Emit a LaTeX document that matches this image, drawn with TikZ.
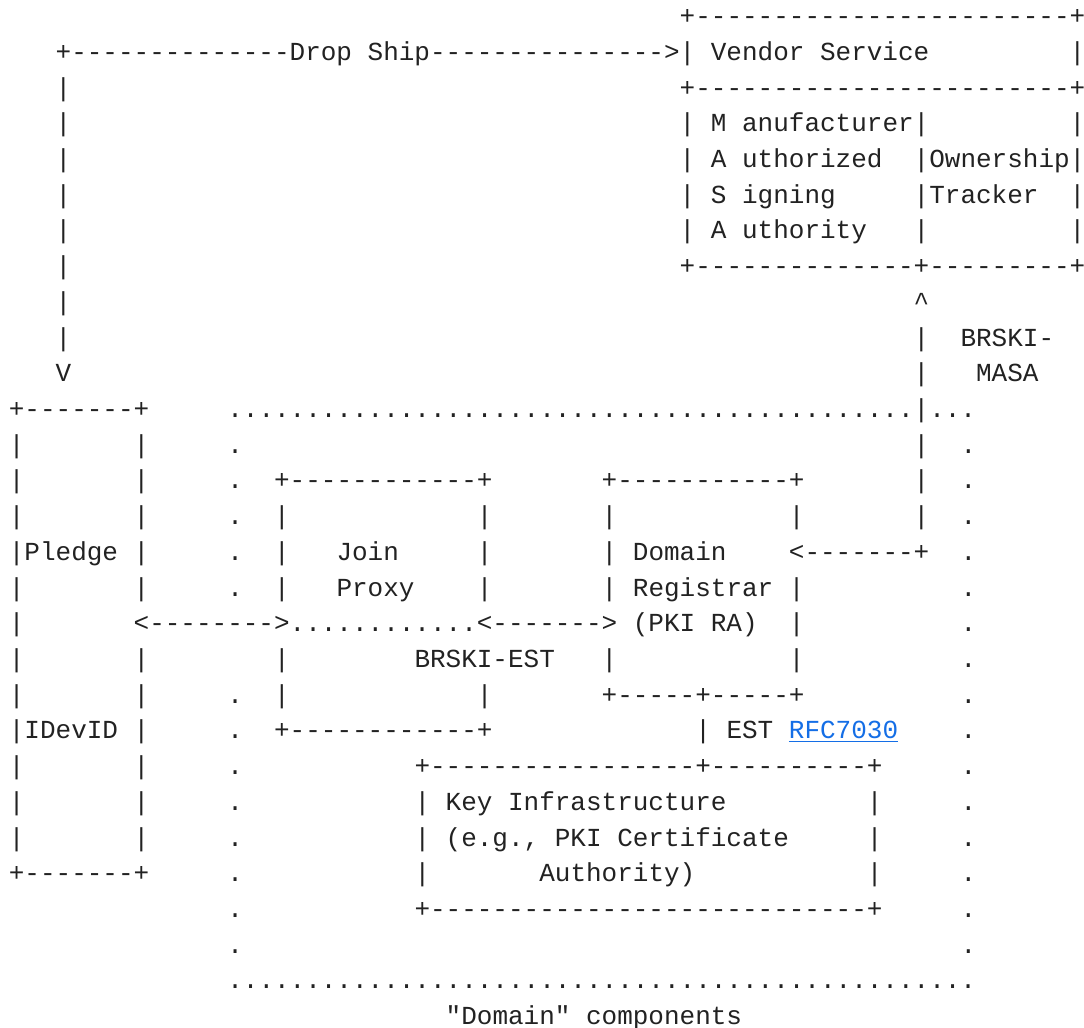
\documentclass[tikz,border=0pt]{standalone}
\usepackage{fontspec}
\setmonofont{Liberation Mono}
\definecolor{ink}{RGB}{34,34,34}
\definecolor{linkblue}{RGB}{20,110,230}
\tikzset{
  txt/.style={inner sep=0pt, outer sep=0pt, anchor=base west,
    font=\ttfamily\fontsize{13pt}{15pt}\selectfont, text=ink},
  linktxt/.style={txt, text=linkblue},
}
% \R{row}{column}{text}: one run of characters on the character grid
\newcommand\R[3]{\node[txt] (r#1c#2) at ({4.45pt+7.8pt*#2},{-208.75pt-17.855pt*(#1-12)}) {#3};}
\begin{document}
\begin{tikzpicture}
\fill[white] (0,0) rectangle (542pt,-514pt);
\useasboundingbox (0,0) rectangle (542pt,-514pt);
% row 1-3
\R{1}{43}{+------------------------+}
\R{2}{3}{+--------------Drop Ship--------------->| Vendor Service}
\R{2}{68}{|}
\R{3}{3}{|}
\R{3}{43}{+------------------------+}
% rows 4-8
\R{4}{3}{|}
\R{4}{43}{| M anufacturer|}
\R{4}{68}{|}
\R{5}{3}{|}
\R{5}{43}{| A uthorized}
\R{5}{58}{|Ownership|}
\R{6}{3}{|}
\R{6}{43}{| S igning}
\R{6}{58}{|Tracker}
\R{6}{68}{|}
\R{7}{3}{|}
\R{7}{43}{| A uthority}
\R{7}{58}{|}
\R{7}{68}{|}
\R{8}{3}{|}
\R{8}{43}{+--------------+---------+}
% rows 9-11
\R{9}{3}{|}
\R{9}{58}{\textasciicircum}
\R{10}{3}{|}
\R{10}{58}{|}
\R{10}{61}{BRSKI-}
\R{11}{3}{V}
\R{11}{58}{|}
\R{11}{62}{MASA}
% row 12
\R{12}{0}{+-------+}
\R{12}{14}{............................................|...}
% row 13
\R{13}{0}{|}
\R{13}{8}{|}
\R{13}{14}{.}
\R{13}{58}{|}
\R{13}{61}{.}
% row 14
\R{14}{0}{|}
\R{14}{8}{|}
\R{14}{14}{.}
\R{14}{17}{+------------+}
\R{14}{38}{+-----------+}
\R{14}{58}{|}
\R{14}{61}{.}
% row 15
\R{15}{0}{|}
\R{15}{8}{|}
\R{15}{14}{.}
\R{15}{17}{|}
\R{15}{30}{|}
\R{15}{38}{|}
\R{15}{50}{|}
\R{15}{58}{|}
\R{15}{61}{.}
% row 16
\R{16}{0}{|Pledge |}
\R{16}{14}{.}
\R{16}{17}{|}
\R{16}{21}{Join}
\R{16}{30}{|}
\R{16}{38}{| Domain}
\R{16}{50}{<-------+}
\R{16}{61}{.}
% row 17
\R{17}{0}{|}
\R{17}{8}{|}
\R{17}{14}{.}
\R{17}{17}{|}
\R{17}{21}{Proxy}
\R{17}{30}{|}
\R{17}{38}{| Registrar |}
\R{17}{61}{.}
% row 18
\R{18}{0}{|}
\R{18}{8}{<-------->............<-------> (PKI RA)}
\R{18}{50}{|}
\R{18}{61}{.}
% row 19
\R{19}{0}{|}
\R{19}{8}{|}
\R{19}{17}{|}
\R{19}{26}{BRSKI-EST}
\R{19}{38}{|}
\R{19}{50}{|}
\R{19}{61}{.}
% row 20
\R{20}{0}{|}
\R{20}{8}{|}
\R{20}{14}{.}
\R{20}{17}{|}
\R{20}{30}{|}
\R{20}{38}{+-----+-----+}
\R{20}{61}{.}
% row 21
\R{21}{0}{|IDevID |}
\R{21}{14}{.}
\R{21}{17}{+------------+}
\R{21}{44}{| EST}
\node[linktxt] (rfc) at ({4.45pt+7.8pt*50},{-208.75pt-17.855pt*9}) {RFC7030};
\draw[linkblue, line width=0.55pt] ([yshift=-1.4pt]rfc.base west) -- ([yshift=-1.4pt]rfc.base east);
\R{21}{61}{.}
% row 22
\R{22}{0}{|}
\R{22}{8}{|}
\R{22}{14}{.}
\R{22}{26}{+-----------------+----------+}
\R{22}{61}{.}
% row 23
\R{23}{0}{|}
\R{23}{8}{|}
\R{23}{14}{.}
\R{23}{26}{| Key Infrastructure}
\R{23}{55}{|}
\R{23}{61}{.}
% row 24
\R{24}{0}{|}
\R{24}{8}{|}
\R{24}{14}{.}
\R{24}{26}{| (e.g., PKI Certificate}
\R{24}{55}{|}
\R{24}{61}{.}
% row 25
\R{25}{0}{+-------+}
\R{25}{14}{.}
\R{25}{26}{|}
\R{25}{34}{Authority)}
\R{25}{55}{|}
\R{25}{61}{.}
% row 26-29
\R{26}{14}{.}
\R{26}{26}{+----------------------------+}
\R{26}{61}{.}
\R{27}{14}{.}
\R{27}{61}{.}
\R{28}{14}{................................................}
\R{29}{28}{"Domain" components}
\end{tikzpicture}
\end{document}
